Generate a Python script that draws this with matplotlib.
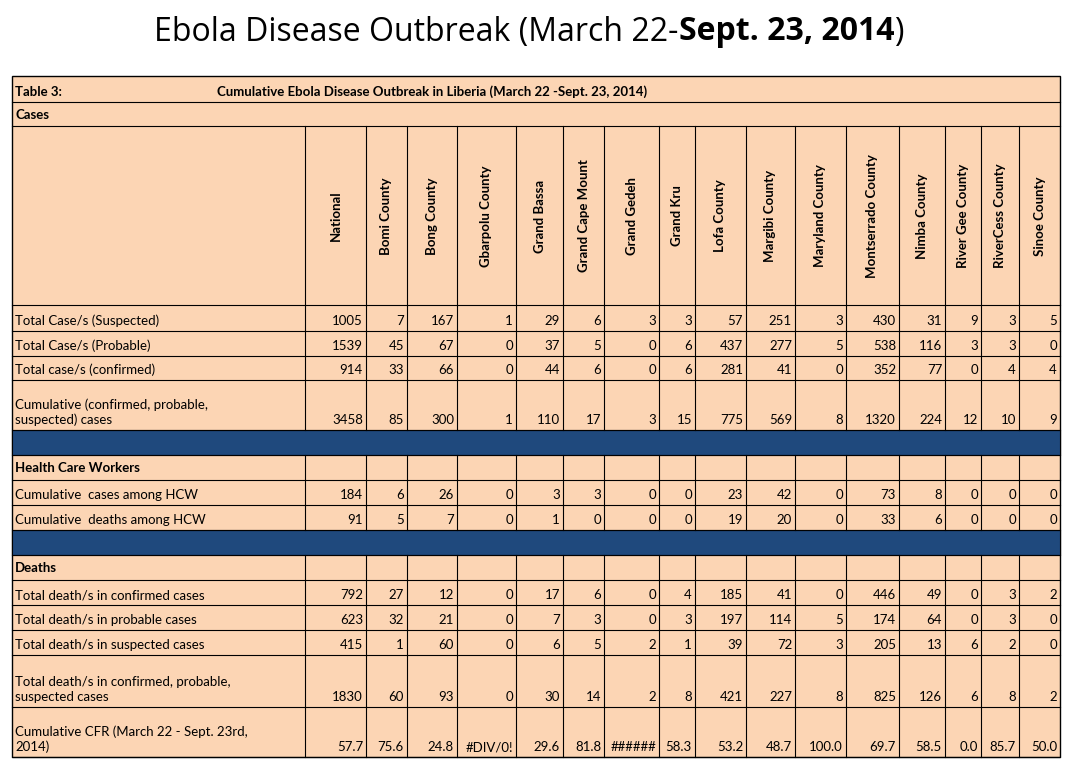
import matplotlib
matplotlib.use("Agg")
import matplotlib.pyplot as plt
from matplotlib.patches import Rectangle

counties = ["National", "Bomi County", "Bong County", "Gbarpolu County", "Grand Bassa",
            "Grand Cape Mount", "Grand Gedeh", "Grand Kru", "Lofa County", "Margibi County",
            "Maryland County", "Montserrado County", "Nimba County", "River Gee County",
            "RiverCess County", "Sinoe County"]
susp = ["1005", "7", "167", "1", "29", "6", "3", "3", "57", "251", "3", "430", "31", "9", "3", "5"]
prob = ["1539", "45", "67", "0", "37", "5", "0", "6", "437", "277", "5", "538", "116", "3", "3", "0"]
conf = ["914", "33", "66", "0", "44", "6", "0", "6", "281", "41", "0", "352", "77", "0", "4", "4"]
cumul = ["3458", "85", "300", "1", "110", "17", "3", "15", "775", "569", "8", "1320", "224", "12", "10", "9"]
hcw_cases = ["184", "6", "26", "0", "3", "3", "0", "0", "23", "42", "0", "73", "8", "0", "0", "0"]
hcw_deaths = ["91", "5", "7", "0", "1", "0", "0", "0", "19", "20", "0", "33", "6", "0", "0", "0"]
d_conf = ["792", "27", "12", "0", "17", "6", "0", "4", "185", "41", "0", "446", "49", "0", "3", "2"]
d_prob = ["623", "32", "21", "0", "7", "3", "0", "3", "197", "114", "5", "174", "64", "0", "3", "0"]
d_susp = ["415", "1", "60", "0", "6", "5", "2", "1", "39", "72", "3", "205", "13", "6", "2", "0"]
d_total = ["1830", "60", "93", "0", "30", "14", "2", "8", "421", "227", "8", "825", "126", "6", "8", "2"]
cfr = ["57.7", "75.6", "24.8", "#DIV/0!", "29.6", "81.8", "######", "58.3", "53.2", "48.7", "100.0",
       "69.7", "58.5", "0.0", "85.7", "50.0"]

# layout (pixels)
xb = [12, 305, 366, 407, 457, 516, 563, 604, 659, 695, 746, 795, 846, 899, 945, 981, 1019, 1060]
rows = [  # (kind, label, values, y0, y1)
    ("title", None, None, 80, 102),
    ("sec", "Cases", None, 102, 126),
    ("head", None, None, 126, 305),
    ("data", "Total Case/s (Suspected)", susp, 305, 331),
    ("data", "Total Case/s (Probable)", prob, 331, 356),
    ("data", "Total case/s (confirmed)", conf, 356, 380),
    ("data", "Cumulative (confirmed, probable,\nsuspected) cases", cumul, 380, 430),
    ("blue", None, None, 430, 455),
    ("sec2", "Health Care Workers", None, 455, 480),
    ("data", "Cumulative  cases among HCW", hcw_cases, 480, 505),
    ("data", "Cumulative  deaths among HCW", hcw_deaths, 505, 530),
    ("blue", None, None, 530, 555),
    ("sec2", "Deaths", None, 555, 580),
    ("data", "Total death/s in confirmed cases", d_conf, 580, 605),
    ("data", "Total death/s in probable cases", d_prob, 605, 630),
    ("data", "Total death/s in suspected cases", d_susp, 630, 655),
    ("data", "Total death/s in confirmed, probable,\nsuspected cases", d_total, 655, 707),
    ("data", "Cumulative CFR (March 22 - Sept. 23rd,\n2014)", cfr, 707, 757),
]

peach = "#FCD5B4"
blue = "#1F497D"
FONT = ["Lato", "DejaVu Sans"]
fs = 9.5

fig = plt.figure(figsize=(10.71, 7.75), dpi=100)
ax = fig.add_axes([0, 0, 1, 1])
ax.set_xlim(0, 1071)
ax.set_ylim(775, 0)
ax.axis("off")

ax.add_patch(Rectangle((xb[0], 76), xb[-1] - xb[0], 757 - 76, facecolor=peach, edgecolor="black", lw=1))
lw = 0.8
for kind, label, vals, y0, y1 in rows:
    ax.plot([xb[0], xb[-1]], [y1, y1], color="black", lw=lw)
    if kind == "blue":
        ax.add_patch(Rectangle((xb[0], y0), xb[-1] - xb[0], y1 - y0, facecolor=blue, edgecolor="black", lw=lw))
        continue
    if kind in ("head", "data", "sec2"):
        for x in xb[1:-1]:
            ax.plot([x, x], [y0, y1], color="black", lw=lw)
    if kind == "title":
        ax.text(15, (y0 + y1) / 2 + 1, "Table 3:", fontsize=fs, fontweight="bold", family=FONT, va="center")
        ax.text(217, (y0 + y1) / 2 + 1, "Cumulative Ebola Disease Outbreak in Liberia (March 22 -Sept. 23, 2014)",
                fontsize=fs, fontweight="bold", family=FONT, va="center")
    elif kind in ("sec", "sec2"):
        ax.text(15, (y0 + y1) / 2 + 1, label, fontsize=fs, fontweight="bold", family=FONT, va="center")
    elif kind == "head":
        for i, c in enumerate(counties):
            ax.text((xb[i + 1] + xb[i + 2]) / 2, 216, c, rotation=90, fontsize=fs, fontweight="bold",
                    family=FONT, ha="center", va="center")
    elif kind == "data":
        ax.text(15, y1 - 4, label, fontsize=fs, family=FONT, va="bottom", linespacing=1.25)
        for i, v in enumerate(vals):
            ax.text(xb[i + 2] - 3, y1 - 4, v, fontsize=fs, family=FONT, ha="right", va="bottom")

# title with bold part
r = fig.canvas.get_renderer()
parts = [("Ebola Disease Outbreak (March 22-", "normal"), ("Sept. 23, 2014", "bold"), (")", "normal")]
objs = [ax.text(0, 32, t, fontsize=23, fontweight=w, family=["Open Sans", "DejaVu Sans"], va="center") for t, w in parts]
widths = [o.get_window_extent(r).width for o in objs]
x = 529 - sum(widths) / 2
for o, w in zip(objs, widths):
    o.set_x(x)
    x += w
fig.savefig("out.png", dpi=100, facecolor="white")
